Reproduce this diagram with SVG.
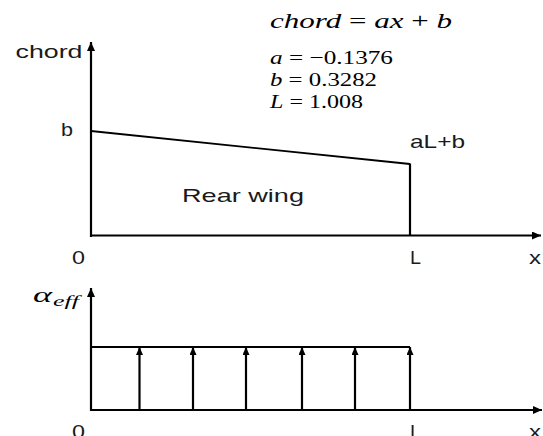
<svg xmlns="http://www.w3.org/2000/svg" width="543" height="436" viewBox="0 0 543 436">
<style>
.ax{stroke:#000;stroke-width:2.2;fill:none}
.ln{stroke:#000;stroke-width:1.8;fill:none}
.sans{font-family:"Liberation Sans","DejaVu Sans",sans-serif;font-size:19px;fill:#1a1a1a}
.math{font-family:"Liberation Serif","DejaVu Serif",serif;fill:#000}
.it{font-style:italic}
</style>
<defs>
<marker id="ah" markerUnits="userSpaceOnUse" markerWidth="10" markerHeight="10" refX="9" refY="4" orient="auto">
<path d="M0,0 L9,4 L0,8 Z" fill="#000"/>
</marker>
<marker id="ahs" markerUnits="userSpaceOnUse" markerWidth="10" markerHeight="10" refX="8" refY="3.5" orient="auto">
<path d="M0,0 L8,3.5 L0,7 Z" fill="#000"/>
</marker>
</defs>
<rect width="543" height="436" fill="#fff"/>

<g id="equation">
<text class="math it" x="270" y="28" font-size="21" textLength="182" lengthAdjust="spacingAndGlyphs">chord <tspan font-style="normal">=</tspan> ax <tspan font-style="normal">+</tspan> b</text>
<text class="math" x="270" y="64" font-size="19" textLength="123" lengthAdjust="spacingAndGlyphs"><tspan font-style="italic">a</tspan> = −0.1376</text>
<text class="math" x="270" y="86" font-size="19" textLength="107" lengthAdjust="spacingAndGlyphs"><tspan font-style="italic">b</tspan> = 0.3282</text>
<text class="math" x="270" y="108" font-size="19" textLength="93" lengthAdjust="spacingAndGlyphs"><tspan font-style="italic">L</tspan> = 1.008</text>
</g>

<g id="chord-chart">
<line class="ax" x1="91" y1="237" x2="91" y2="42" marker-end="url(#ah)"/>
<line class="ax" x1="90" y1="235.5" x2="541" y2="235.5" marker-end="url(#ah)"/>
<polyline class="ln" points="91,131 410,164"/>
<line class="ax" x1="410" y1="163.5" x2="410" y2="236"/>
<text class="sans" x="15.5" y="57.5" textLength="67" lengthAdjust="spacingAndGlyphs">chord</text>
<text class="sans" x="61" y="136" textLength="12" lengthAdjust="spacingAndGlyphs">b</text>
<text class="sans" x="410" y="147.5" textLength="55" lengthAdjust="spacingAndGlyphs">aL+b</text>
<text class="sans" x="182" y="202" font-size="20" textLength="122" lengthAdjust="spacingAndGlyphs">Rear wing</text>
<text class="sans" x="72" y="264" textLength="13" lengthAdjust="spacingAndGlyphs">0</text>
<text class="sans" x="410" y="264" textLength="11" lengthAdjust="spacingAndGlyphs">L</text>
<text class="sans" x="529" y="264" textLength="12" lengthAdjust="spacingAndGlyphs">x</text>
</g>

<g id="alpha-chart">
<line class="ax" x1="91" y1="411" x2="91" y2="288" marker-end="url(#ah)"/>
<line class="ax" x1="90" y1="410" x2="542" y2="410" marker-end="url(#ah)"/>
<line class="ln" x1="91" y1="347" x2="410" y2="347" stroke-width="1.6"/>
<text class="math it" x="33" y="302" font-size="22" textLength="19" lengthAdjust="spacingAndGlyphs">α</text>
<text class="math it" x="53" y="306" font-size="14" textLength="26" lengthAdjust="spacingAndGlyphs">eff</text>
<text class="sans" x="72" y="438" textLength="13" lengthAdjust="spacingAndGlyphs">0</text>
<text class="sans" x="410" y="438" textLength="11" lengthAdjust="spacingAndGlyphs">L</text>
<text class="sans" x="529" y="438" textLength="12" lengthAdjust="spacingAndGlyphs">x</text>
</g>

<g id="connectors">
<line class="ax" x1="139.5" y1="410" x2="139.5" y2="347" marker-end="url(#ahs)"/>
<line class="ax" x1="193" y1="410" x2="193" y2="347" marker-end="url(#ahs)"/>
<line class="ax" x1="246" y1="410" x2="246" y2="347" marker-end="url(#ahs)"/>
<line class="ax" x1="302" y1="410" x2="302" y2="347" marker-end="url(#ahs)"/>
<line class="ax" x1="355" y1="410" x2="355" y2="347" marker-end="url(#ahs)"/>
<line class="ax" x1="410" y1="410" x2="410" y2="347" marker-end="url(#ahs)"/>
</g>
</svg>
